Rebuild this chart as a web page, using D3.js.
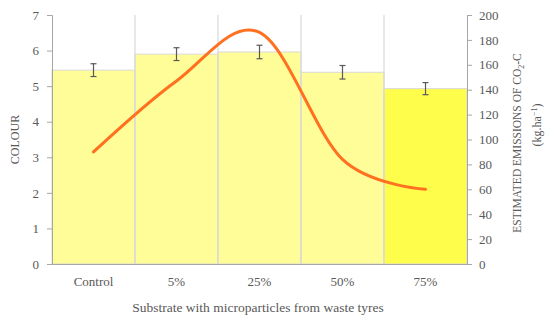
<!DOCTYPE html>
<html>
<head>
<meta charset="utf-8">
<script src="https://cdn.jsdelivr.net/npm/d3@7"></script>
<style>
  body { margin: 0; background: #fff; }
  svg text { font-family: "Liberation Serif", "DejaVu Serif", serif; fill: #595959; }
</style>
</head>
<body>
<svg class="chart"></svg>
<script>
let width = 550, height = 322;
let margin = { top: 15, right: 83, bottom: 58, left: 52 };
let w = width - margin.left - margin.right;
let h = height - margin.top - margin.bottom;

// data
let categories = ["Control", "5%", "25%", "50%", "75%"];
let colour = [5.45, 5.90, 5.96, 5.39, 4.93];
let colourErr = [0.18, 0.18, 0.19, 0.19, 0.17];
let emissions = [90, 147, 186, 84, 60];
let barColors = ["#FFFD98", "#FFFD98", "#FFFD98", "#FFFD98", "#FFFD4C"];
let leftTicks = [0, 1, 2, 3, 4, 5, 6, 7];
let rightTicks = [0, 20, 40, 60, 80, 100, 120, 140, 160, 180, 200];

let x = d3.scaleBand().domain(categories).range([0, w]).padding(0);
let y = d3.scaleLinear().domain([0, 7]).range([h, 0]);
let y2 = d3.scaleLinear().domain([0, 200]).range([h, 0]);

let svg = d3.select(".chart").attr("width", width).attr("height", height);
let chart = svg.append("g")
  .attr("transform", "translate(" + margin.left + "," + margin.top + ")");

// bars
chart.selectAll("rect.bar")
  .data(categories)
  .enter().append("rect")
  .attr("class", "bar")
  .attr("x", d => x(d))
  .attr("y", (d, i) => y(colour[i]))
  .attr("width", x.bandwidth())
  .attr("height", (d, i) => h - y(colour[i]))
  .style("fill", (d, i) => barColors[i])
  .style("stroke", "#D9D9D9")
  .style("stroke-width", 1);

// vertical separators between categories
chart.selectAll("line.sep")
  .data(categories.slice(1))
  .enter().append("line")
  .attr("x1", d => x(d)).attr("x2", d => x(d))
  .attr("y1", 0).attr("y2", h)
  .style("stroke", "#D9D9D9")
  .style("stroke-width", 1.2);

// error bars
let eb = chart.selectAll("g.err")
  .data(categories)
  .enter().append("g")
  .attr("transform", d => "translate(" + (x(d) + x.bandwidth() / 2) + ",0)")
  .style("stroke", "#595959")
  .style("stroke-width", 1.2);
eb.append("line")
  .attr("y1", (d, i) => y(colour[i] + colourErr[i]))
  .attr("y2", (d, i) => y(colour[i] - colourErr[i]));
eb.append("line").attr("x1", -3).attr("x2", 3)
  .attr("y1", (d, i) => y(colour[i] + colourErr[i]))
  .attr("y2", (d, i) => y(colour[i] + colourErr[i]));
eb.append("line").attr("x1", -3).attr("x2", 3)
  .attr("y1", (d, i) => y(colour[i] - colourErr[i]))
  .attr("y2", (d, i) => y(colour[i] - colourErr[i]));

// smoothed emissions line
let line = d3.line()
  .x((d, i) => x(categories[i]) + x.bandwidth() / 2)
  .y(d => y2(d))
  .curve(d3.curveCardinal.tension(0));
chart.append("path")
  .datum(emissions)
  .attr("d", line)
  .style("fill", "none")
  .style("stroke", "#FF7020")
  .style("stroke-width", 3)
  .style("stroke-linecap", "round");

// axes
let axisColor = "#A6A6A6";
let gx = chart.append("g")
  .attr("transform", "translate(0," + h + ")")
  .call(d3.axisBottom(x).tickSize(0).tickPadding(13));
gx.attr("font-family", null).attr("font-size", null);
gx.select(".domain").style("stroke", axisColor);
gx.selectAll("text").style("font-size", "13px");

let gl = chart.append("g")
  .call(d3.axisLeft(y).tickValues(leftTicks).tickFormat(d3.format("d"))
    .tickSize(5).tickPadding(8).tickSizeOuter(5));
gl.attr("font-family", null).attr("font-size", null);
gl.select(".domain").style("stroke", axisColor);
gl.selectAll("line").style("stroke", axisColor);
gl.selectAll("text").style("font-size", "13px");

let gr = chart.append("g")
  .attr("transform", "translate(" + w + ",0)")
  .call(d3.axisRight(y2).tickValues(rightTicks).tickSize(5).tickPadding(7).tickSizeOuter(5));
gr.attr("font-family", null).attr("font-size", null);
gr.select(".domain").style("stroke", axisColor);
gr.selectAll("line").style("stroke", axisColor);
gr.selectAll("text").style("font-size", "13px");

// axis titles
svg.append("text")
  .attr("transform", "translate(19," + (margin.top + h / 2) + ") rotate(-90)")
  .style("text-anchor", "middle")
  .style("font-size", "12px")
  .text("COLOUR");

let rt = svg.append("text")
  .attr("transform", "translate(521," + (margin.top + 128) + ") rotate(-90)")
  .style("text-anchor", "middle")
  .style("font-size", "11.5px");
rt.append("tspan").text("ESTIMATED EMISSIONS OF CO");
rt.append("tspan").attr("dy", 3).style("font-size", "8px").text("2");
rt.append("tspan").attr("dy", -3).text("-C");

let rt2 = svg.append("text")
  .attr("transform", "translate(541," + (margin.top + 110) + ") rotate(-90)")
  .style("text-anchor", "middle")
  .style("font-size", "12px");
rt2.append("tspan").text("(kg.ha");
rt2.append("tspan").attr("dy", -4).style("font-size", "8px").text("\u22121");
rt2.append("tspan").attr("dy", 4).text(")");

svg.append("text")
  .attr("x", 258)
  .attr("y", 312)
  .style("text-anchor", "middle")
  .style("font-size", "13.5px")
  .text("Substrate with microparticles from waste tyres");
</script>
</body>
</html>
